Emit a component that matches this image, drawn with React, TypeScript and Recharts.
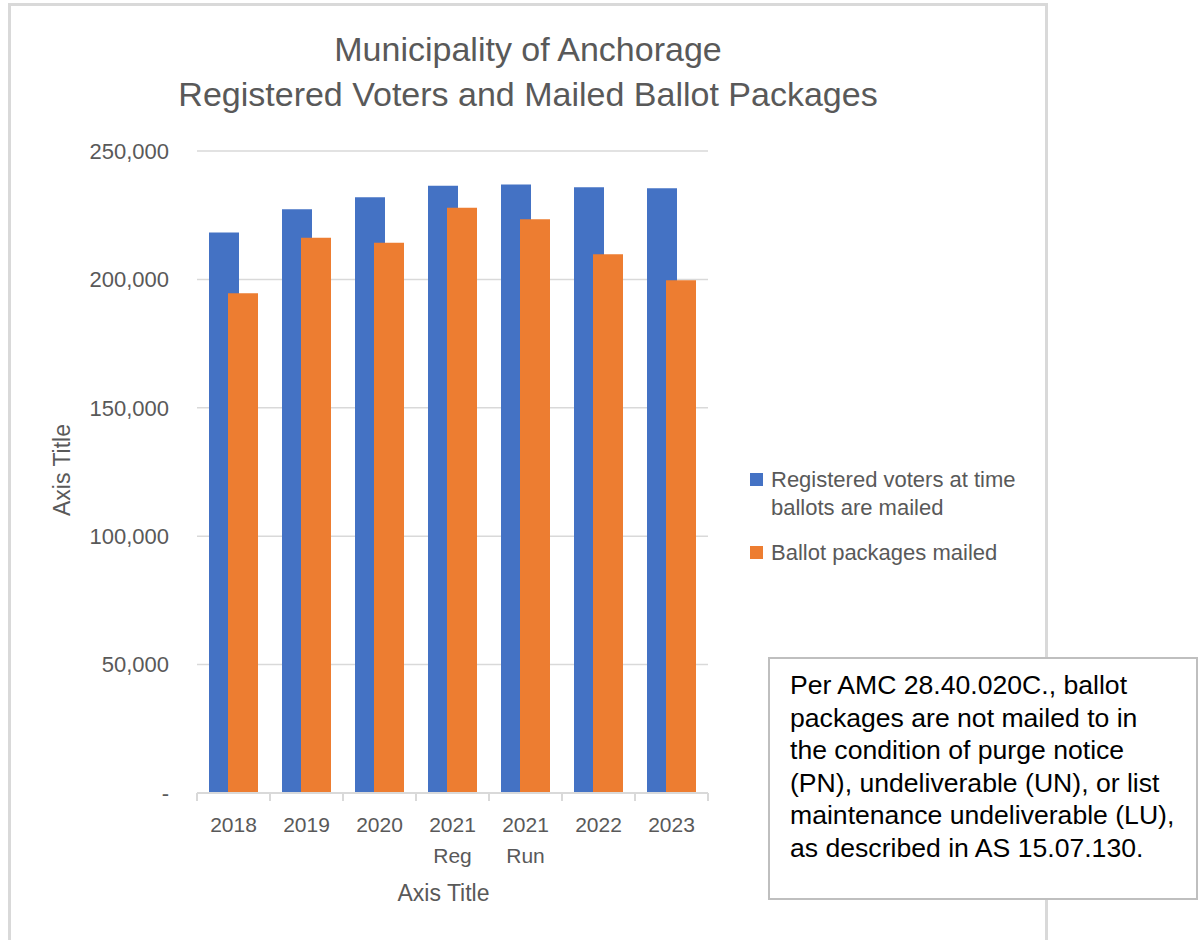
import { BarChart, Bar, XAxis, YAxis, CartesianGrid, Legend, Label } from 'recharts';

const categories = ['2018', '2019', '2020', '2021 Reg', '2021 Run', '2022', '2023'];
const registeredVoters = [218300, 227300, 232000, 236500, 237000, 235900, 235500];
const ballotsMailed = [194600, 216200, 214300, 227900, 223400, 209800, 199700];
const yTicks = [0, 50000, 100000, 150000, 200000, 250000];

const titleLines = ['Municipality of Anchorage', 'Registered Voters and Mailed Ballot Packages'];
const noteLines = [
  'Per AMC 28.40.020C., ballot',
  'packages are not mailed to in',
  'the condition of purge notice',
  '(PN), undeliverable (UN), or list',
  'maintenance undeliverable (LU),',
  'as described in AS 15.07.130.',
];

const FONT = '"Liberation Sans", Arial, sans-serif';
const GREY = '#595959';
const LINE = '#d9d9d9';
const SERIES_ORDER = ['registered', 'mailed'];

const data = categories.map((c, i) => ({
  name: c,
  registered: registeredVoters[i],
  mailed: ballotsMailed[i],
}));

function CategoryTick({ x, y, payload, index, visibleTicksCount }: any) {
  const half = payload.offset ?? 0;
  const lines = String(payload.value).split(' ');
  const last = index === visibleTicksCount - 1;
  return (
    <g>
      <line x1={x - half} x2={x - half} y1={y - 8} y2={y} stroke={LINE} strokeWidth={2} />
      {last && <line x1={x + half} x2={x + half} y1={y - 8} y2={y} stroke={LINE} strokeWidth={2} />}
      <text x={x} y={y + 31} textAnchor="middle" fill={GREY} fontSize={21} fontFamily={FONT}>
        {lines.map((l, i) => (
          <tspan key={i} x={x} dy={i === 0 ? 0 : 31}>{l}</tspan>
        ))}
      </text>
    </g>
  );
}

function LegendBox({ payload }: any) {
  const wrapped: Record<string, string[]> = {
    registered: ['Registered voters at time', 'ballots are mailed'],
    mailed: ['Ballot packages mailed'],
  };
  const items = [...(payload || [])].sort(
    (a: any, b: any) => SERIES_ORDER.indexOf(a.dataKey) - SERIES_ORDER.indexOf(b.dataKey)
  );
  return (
    <div style={{ fontFamily: FONT, fontSize: 22, color: GREY, lineHeight: '28px' }}>
      {items.map((p: any) => (
        <div key={p.dataKey} style={{ display: 'flex', alignItems: 'flex-start', marginBottom: 17 }}>
          <div style={{ width: 13, height: 13, background: p.color, marginTop: 7, marginRight: 8, flexShrink: 0 }} />
          <div>
            {(wrapped[p.dataKey] || [p.value]).map((l: string) => (
              <div key={l}>{l}</div>
            ))}
          </div>
        </div>
      ))}
    </div>
  );
}

export default function App() {
  return (
    <div style={{ position: 'absolute', left: 0, top: 0, width: 1199, height: 940, background: '#fff', overflow: 'hidden' }}>
      <div
        style={{
          position: 'absolute', left: 8, top: 3, width: 1034, height: 980,
          borderLeft: `3px solid ${LINE}`, borderTop: `3px solid ${LINE}`, borderRight: `3px solid ${LINE}`,
        }}
      />
      <div
        style={{
          position: 'absolute', left: 0, top: 27, width: 1056, textAlign: 'center',
          fontFamily: FONT, fontSize: 34, lineHeight: '45px', color: GREY,
        }}
      >
        {titleLines.map((l) => (
          <div key={l}>{l}</div>
        ))}
      </div>
      <div style={{ position: 'absolute', left: 0, top: 0 }}>
        <BarChart
          width={1040}
          height={940}
          data={data}
          margin={{ top: 151, right: 332, bottom: 47, left: 40 }}
          barSize={30}
          barGap={-11}
        >
          <CartesianGrid vertical={false} stroke={LINE} strokeWidth={1.5} />
          <XAxis
            dataKey="name"
            height={100}
            stroke={LINE}
            strokeWidth={2}
            tickLine={false}
            tickSize={8}
            tickMargin={0}
            interval={0}
            tick={<CategoryTick />}
          >
            <Label
              content={({ viewBox }: any) => (
                <text
                  x={viewBox.x + viewBox.width / 2 - 9}
                  y={viewBox.y + 108}
                  textAnchor="middle"
                  fill={GREY}
                  fontSize={23}
                  fontFamily={FONT}
                >
                  Axis Title
                </text>
              )}
            />
          </XAxis>
          <YAxis
            width={157}
            domain={[0, 250000]}
            ticks={yTicks}
            axisLine={false}
            tickLine={false}
            tickMargin={22}
            tick={{ fill: GREY, fontSize: 22, fontFamily: FONT }}
            tickFormatter={(v: number) => (v === 0 ? '-' : v.toLocaleString('en-US'))}
          >
            <Label
              content={({ viewBox }: any) => {
                const cx = viewBox.x + 22;
                const cy = viewBox.y + viewBox.height / 2 - 2;
                return (
                  <text
                    x={cx}
                    y={cy}
                    transform={`rotate(-90 ${cx} ${cy})`}
                    textAnchor="middle"
                    dominantBaseline="central"
                    fill={GREY}
                    fontSize={23}
                    fontFamily={FONT}
                  >
                    Axis Title
                  </text>
                );
              }}
            />
          </YAxis>
          <Legend
            layout="horizontal"
            verticalAlign="middle"
            align="center"
            content={<LegendBox />}
            wrapperStyle={{ position: 'absolute', left: 750, top: 466, width: 290 }}
          />
          <Bar dataKey="registered" name="Registered voters at time ballots are mailed" fill="#4472C4" isAnimationActive={false} />
          <Bar dataKey="mailed" name="Ballot packages mailed" fill="#ED7D31" isAnimationActive={false} />
        </BarChart>
      </div>
      <div
        style={{
          position: 'absolute', left: 768, top: 657, width: 430, height: 243,
          border: '2px solid #bfbfbf', background: '#fff',
          padding: '10px 0 0 20px', boxSizing: 'border-box',
          fontFamily: FONT, fontSize: 26.6, lineHeight: '32.6px', color: '#000',
          whiteSpace: 'nowrap',
        }}
      >
        {noteLines.map((l) => (
          <div key={l}>{l}</div>
        ))}
      </div>
    </div>
  );
}
